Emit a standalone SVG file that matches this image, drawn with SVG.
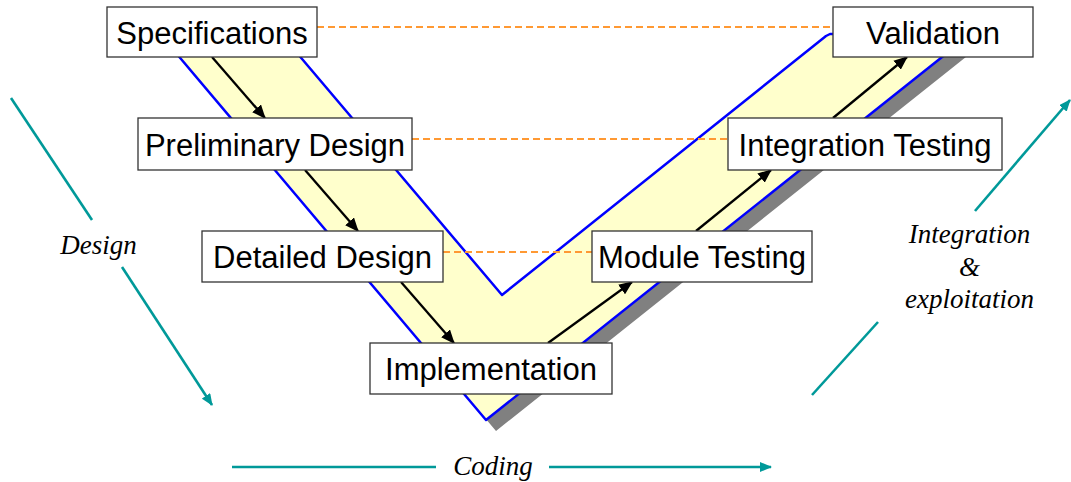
<svg xmlns="http://www.w3.org/2000/svg" width="1071" height="482" viewBox="0 0 1071 482">
<defs>
<style>
.box{fill:#ffffff;stroke:#333333;stroke-width:1.3}
.lbl{font-family:"Liberation Sans",Arial,sans-serif;font-size:31px;fill:#000000;text-anchor:middle}
.it{font-family:"Liberation Serif","Times New Roman",serif;font-style:italic;font-size:27px;fill:#000000;text-anchor:middle}
.dash{stroke:#ff9933;stroke-width:2;stroke-dasharray:7,4;fill:none}
.flow{stroke:#000000;stroke-width:2.3;fill:none;marker-end:url(#ah)}
.teal{stroke:#009999;stroke-width:2.6;fill:none}
.tealA{stroke:#009999;stroke-width:2.6;fill:none;marker-end:url(#th)}
</style>
<marker id="ah" viewBox="0 0 12 10" refX="11" refY="5" markerWidth="14" markerHeight="12" markerUnits="userSpaceOnUse" orient="auto">
<path d="M0,0 L12,5 L0,10 z" fill="#000000"/>
</marker>
<marker id="th" viewBox="0 0 12 10" refX="11" refY="5" markerWidth="12" markerHeight="10" markerUnits="userSpaceOnUse" orient="auto">
<path d="M0,0 L12,5 L0,10 z" fill="#009999"/>
</marker>
</defs>
<g id="v-shape">
<polygon points="175,51 296,51 512,306 838,45 981,45 496,431" fill="#808080"/>
<polygon points="165,40 286,40 502,295 826,36 830,34 971,34 486,420" fill="#ffffcc" stroke="#0000ff" stroke-width="2.5" stroke-linejoin="round"/>
</g>
<g id="connectors">
<line class="dash" x1="317" y1="27" x2="833" y2="27"/>
<line class="dash" x1="412" y1="139" x2="728" y2="139"/>
<line class="dash" x1="443" y1="252" x2="592" y2="252"/>
<line class="flow" x1="212" y1="57" x2="265" y2="118"/>
<line class="flow" x1="305" y1="170" x2="358" y2="231"/>
<line class="flow" x1="401" y1="282" x2="454" y2="343"/>
<line class="flow" x1="548" y1="343" x2="632" y2="282"/>
<line class="flow" x1="696" y1="231" x2="771" y2="170"/>
<line class="flow" x1="833" y1="118" x2="907" y2="57"/>
</g>
<g id="node-specifications"><rect class="box" x="107" y="7" width="210" height="50"/><text class="lbl" x="212" y="44">Specifications</text></g>
<g id="node-preliminary"><rect class="box" x="138" y="118" width="274" height="52"/><text class="lbl" x="275" y="156">Preliminary Design</text></g>
<g id="node-detailed"><rect class="box" x="202" y="231" width="241" height="51"/><text class="lbl" x="322.5" y="268">Detailed Design</text></g>
<g id="node-implementation"><rect class="box" x="370" y="343" width="242" height="51"/><text class="lbl" x="491" y="380">Implementation</text></g>
<g id="node-module"><rect class="box" x="592" y="231" width="220" height="51"/><text class="lbl" x="702" y="268">Module Testing</text></g>
<g id="node-integration"><rect class="box" x="728" y="118" width="274" height="52"/><text class="lbl" x="865" y="156">Integration Testing</text></g>
<g id="node-validation"><rect class="box" x="833" y="7" width="200" height="50"/><text class="lbl" x="933" y="44">Validation</text></g>
<g id="phase-design">
<line class="teal" x1="11" y1="98" x2="92" y2="220"/>
<line class="tealA" x1="122" y1="267" x2="212" y2="405"/>
<text class="it" x="98.5" y="254">Design</text>
</g>
<g id="phase-coding">
<line class="teal" x1="232" y1="467" x2="436" y2="467"/>
<line class="tealA" x1="549" y1="467" x2="771" y2="467"/>
<text class="it" x="493" y="475">Coding</text>
</g>
<g id="phase-integration">
<line class="teal" x1="812" y1="395" x2="878" y2="322"/>
<line class="tealA" x1="975" y1="211" x2="1070" y2="100"/>
<text class="it" x="969.5" y="243">Integration</text>
<text class="it" x="969.5" y="276">&amp;</text>
<text class="it" x="969.5" y="308">exploitation</text>
</g>
</svg>
